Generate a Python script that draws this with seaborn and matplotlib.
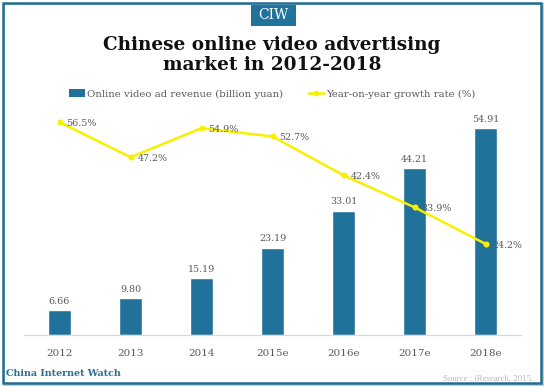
import matplotlib
matplotlib.use("Agg")
import matplotlib.pyplot as plt
import numpy as np
import pandas as pd
import seaborn as sns
from matplotlib.patches import Rectangle, Patch
from matplotlib.lines import Line2D

years = ["2012", "2013", "2014", "2015e", "2016e", "2017e", "2018e"]
revenue = [6.66, 9.80, 15.19, 23.19, 33.01, 44.21, 54.91]
growth = [56.5, 47.2, 54.9, 52.7, 42.4, 33.9, 24.2]

bar_color = "#21729a"
line_color = "#f7f000"
text_gray = "#595959"

sns.set_style("white")
plt.rcParams["font.family"] = ["DejaVu Serif"]

df = pd.DataFrame({"year": years, "revenue": revenue, "growth": growth})

fig = plt.figure(figsize=(5.44, 3.87), dpi=100)
ax = fig.add_axes([24 / 544, 52 / 387, 497 / 544, 226 / 387])

sns.barplot(data=df, x="year", y="revenue", color=bar_color, width=0.31,
            saturation=1, ax=ax)
ax.set_ylim(0, 60)
ax.set_xlim(-0.5, 6.5)

ax2 = ax.twinx()
sns.pointplot(data=df, x="year", y="growth", color=line_color, ax=ax2,
              markers="o", markersize=3, linewidth=1.8)
ax2.set_ylim(0, 60)
ax2.set_xlim(-0.5, 6.5)

# value labels
for i, v in enumerate(revenue):
    ax.annotate(f"{v:.2f}", (i, v), xytext=(0, 3), textcoords="offset points",
                ha="center", va="bottom", fontsize=6.8, color=text_gray)
for i, g in enumerate(growth):
    ax2.annotate(f"{g:.1f}%", (i, g), xytext=(5, -1), textcoords="offset points",
                 ha="left", va="center", fontsize=6.8, color=text_gray)

for a in (ax, ax2):
    a.set_xlabel("")
    a.set_ylabel("")
    a.set_yticks([])
    for s in ("left", "right", "top"):
        a.spines[s].set_visible(False)
    a.spines["bottom"].set_color("#d9d9d9")
ax.tick_params(axis="x", length=0, pad=10, labelsize=7.5, labelcolor=text_gray)

# legend
handles = [Patch(facecolor=bar_color, edgecolor="none"),
           Line2D([0], [0], color=line_color, lw=1.8, marker="o", markersize=3)]
fig.legend(handles, ["Online video ad revenue (billion yuan)",
                     "Year-on-year growth rate (%)"],
           loc="center", bbox_to_anchor=(0.5, 1 - 94 / 387), ncol=2,
           frameon=False, fontsize=7.3, labelcolor=text_gray,
           handlelength=1.6, handleheight=0.7, handletextpad=0.2,
           columnspacing=2.4)

# title
fig.text(0.5, 1 - 55 / 387, "Chinese online video advertising\nmarket in 2012-2018",
         ha="center", va="center", fontsize=13.3, fontweight="bold",
         color="#111111", linespacing=1.15)

# badge
fig.patches.append(Rectangle((251 / 544, 1 - 26 / 387), 45 / 544, 23 / 387,
                             transform=fig.transFigure, facecolor="#22739b",
                             edgecolor="none"))
fig.text(273.5 / 544, 1 - 15 / 387, "CIW", ha="center", va="center",
         fontsize=10, color="white")

# frame
fig.patches.append(Rectangle((4 / 544, 2 / 387), 539 / 544, 381 / 387,
                             transform=fig.transFigure, fill=False,
                             edgecolor="#c8ccd0", linewidth=1.5))
fig.patches.append(Rectangle((3 / 544, 4 / 387), 538 / 544, 380 / 387,
                             transform=fig.transFigure, fill=False,
                             edgecolor="#1f6f94", linewidth=1.8))

# footer
fig.text(6 / 544, 1 - 373 / 387, "China Internet Watch", ha="left", va="center",
         fontsize=6.8, fontweight="bold", color="#2a6f8f")
fig.text(533 / 544, 1 - 379 / 387, "Source : iResearch, 2015.", ha="right",
         va="center", fontsize=6.3, color="#b8b8b8",
         family=["Liberation Serif"])

fig.savefig("out.png", dpi=100)
